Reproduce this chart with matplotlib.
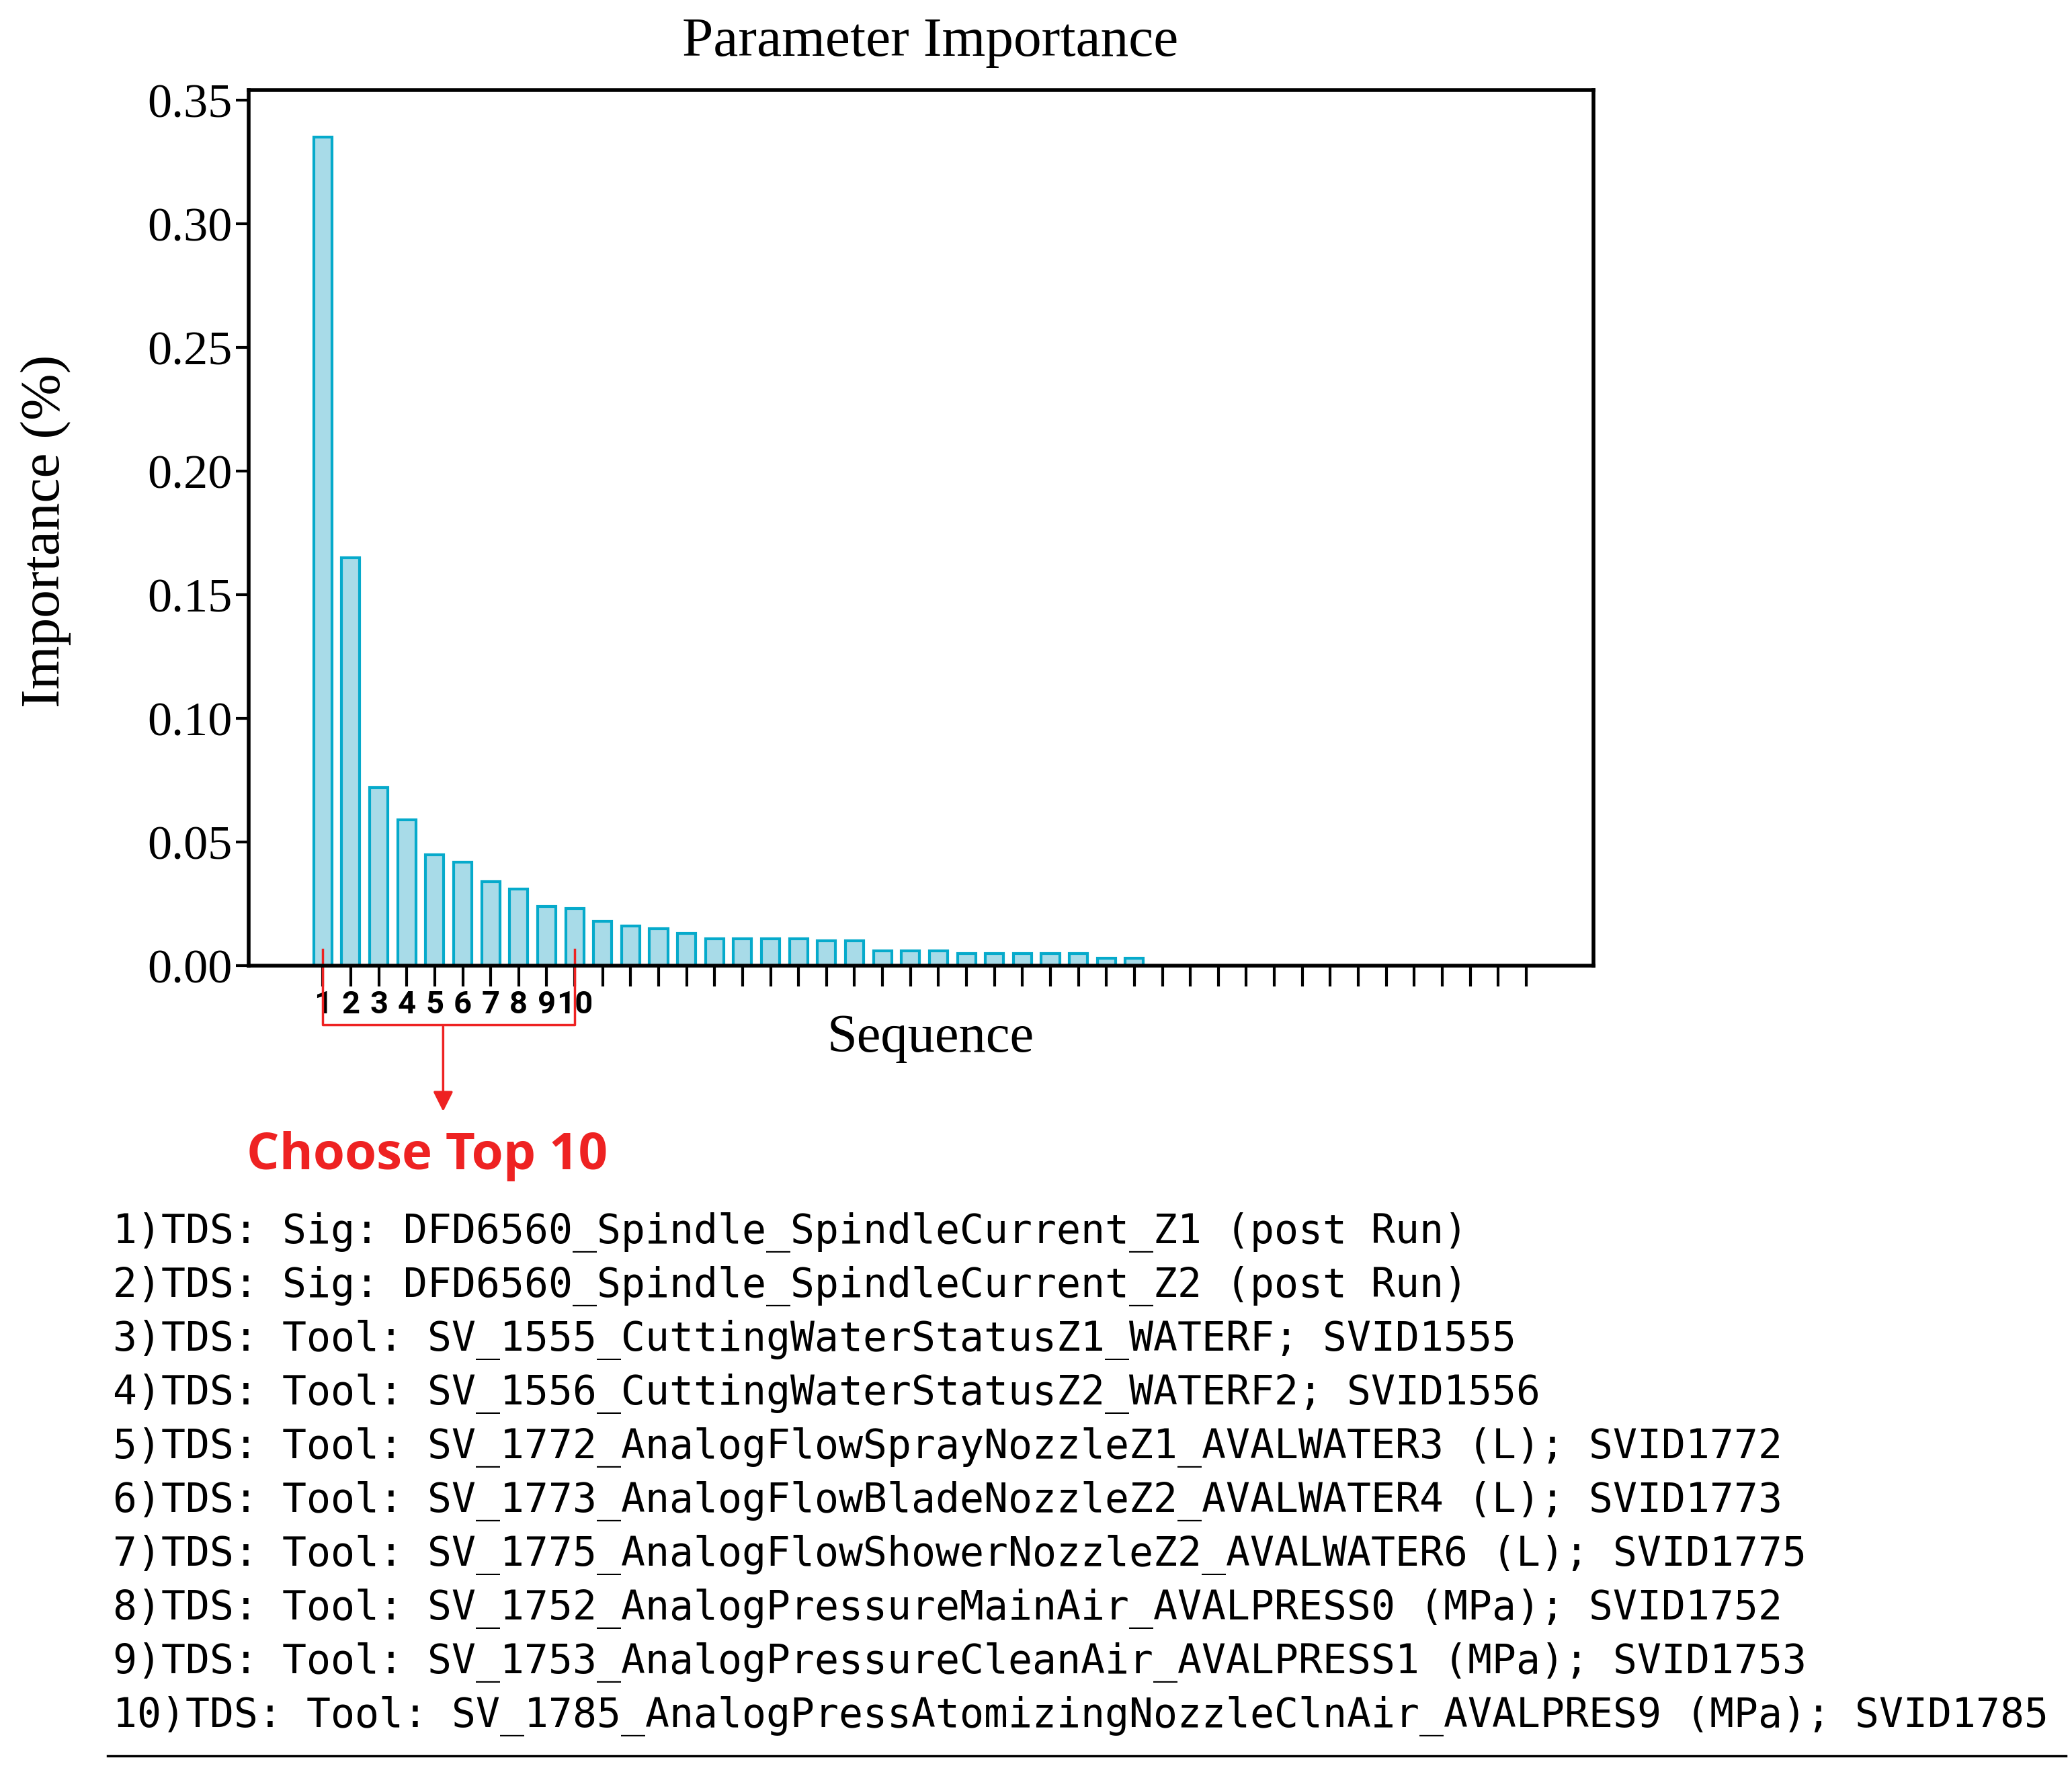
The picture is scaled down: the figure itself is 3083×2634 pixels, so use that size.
import matplotlib
matplotlib.use("Agg")
import matplotlib.pyplot as plt
import matplotlib.transforms as mtransforms
import numpy as np

# importance values (bars 1..30, rest are empty ticks)
importance = [0.335, 0.165, 0.072, 0.059, 0.045, 0.042, 0.034, 0.031, 0.024, 0.023,
              0.018, 0.016, 0.015, 0.013, 0.011, 0.011, 0.011, 0.011, 0.010, 0.010,
              0.006, 0.006, 0.006, 0.005, 0.005, 0.005, 0.005, 0.005, 0.003, 0.003]
n_ticks = 44
tick_labels = [str(i) for i in range(1, 11)]
param_lines = [
    "1)TDS: Sig: DFD6560_Spindle_SpindleCurrent_Z1 (post Run)",
    "2)TDS: Sig: DFD6560_Spindle_SpindleCurrent_Z2 (post Run)",
    "3)TDS: Tool: SV_1555_CuttingWaterStatusZ1_WATERF; SVID1555",
    "4)TDS: Tool: SV_1556_CuttingWaterStatusZ2_WATERF2; SVID1556",
    "5)TDS: Tool: SV_1772_AnalogFlowSprayNozzleZ1_AVALWATER3 (L); SVID1772",
    "6)TDS: Tool: SV_1773_AnalogFlowBladeNozzleZ2_AVALWATER4 (L); SVID1773",
    "7)TDS: Tool: SV_1775_AnalogFlowShowerNozzleZ2_AVALWATER6 (L); SVID1775",
    "8)TDS: Tool: SV_1752_AnalogPressureMainAir_AVALPRESS0 (MPa); SVID1752",
    "9)TDS: Tool: SV_1753_AnalogPressureCleanAir_AVALPRESS1 (MPa); SVID1753",
    "10)TDS: Tool: SV_1785_AnalogPressAtomizingNozzleClnAir_AVALPRES9 (MPa); SVID1785",
]

serif = ["Liberation Serif", "DejaVu Serif"]

fig = plt.figure(figsize=(30.83, 26.34), dpi=100)
ax = fig.add_axes([0.120, 0.4544, 0.649, 0.4946])

x = np.arange(1, len(importance) + 1)
ax.bar(x, importance, width=0.65, color="#a8dbe8", edgecolor="#06aacb", linewidth=3)

ax.set_xlim(-1.65, 46.4)
ax.set_ylim(0, 0.354)
ax.set_xticks(np.arange(1, n_ticks + 1))
ax.set_xticklabels(tick_labels + [""] * (n_ticks - 10), fontweight="bold",
                   fontsize=34, family="Roboto")
ax.tick_params(axis="x", length=22, width=3, direction="out", pad=4)
ax.tick_params(axis="y", length=14, width=3, labelsize=52)
ax.set_yticks(np.arange(0, 0.36, 0.05))
ax.set_yticklabels([f"{v:.2f}" for v in np.arange(0, 0.36, 0.05)], family=serif)
for s in ax.spines.values():
    s.set_linewidth(4)

fig.text(0.449, 0.976, "Parameter Importance", ha="center", va="center",
         fontsize=60, family=serif)
fig.text(0.022, 0.70, "Importance (%)", ha="center", va="center", rotation=90,
         fontsize=60, family=serif)
fig.text(0.449, 0.4134, "Sequence", ha="center", va="center", fontsize=58, family=serif)

# red bracket around the top 10
tr = mtransforms.blended_transform_factory(ax.transData, fig.transFigure)
red = "#ee2222"
kw = dict(color=red, lw=2.5, transform=tr, clip_on=False)
ax.plot([1, 1, 10, 10], [0.4636, 0.421, 0.421, 0.4636], **kw)
ax.annotate("", xy=(5.3, 0.371), xytext=(5.3, 0.421), xycoords=tr, textcoords=tr,
            arrowprops=dict(arrowstyle="-|>", color=red, lw=2.5, mutation_scale=45))

fig.text(0.119, 0.347, "Choose Top 10", color=red, fontsize=55, fontweight="bold",
         family="Open Sans", va="center", ha="left")

for i, line in enumerate(param_lines):
    fig.text(0.0545, 1 - (1834 + 80 * i) / 2634, line, fontsize=43,
             family="DejaVu Sans Mono", va="center", ha="left")

fig.add_artist(plt.Line2D([0.052, 0.997], [0.008, 0.008], color="black", lw=2.5))

fig.savefig("out.png", dpi=100, facecolor="white")
